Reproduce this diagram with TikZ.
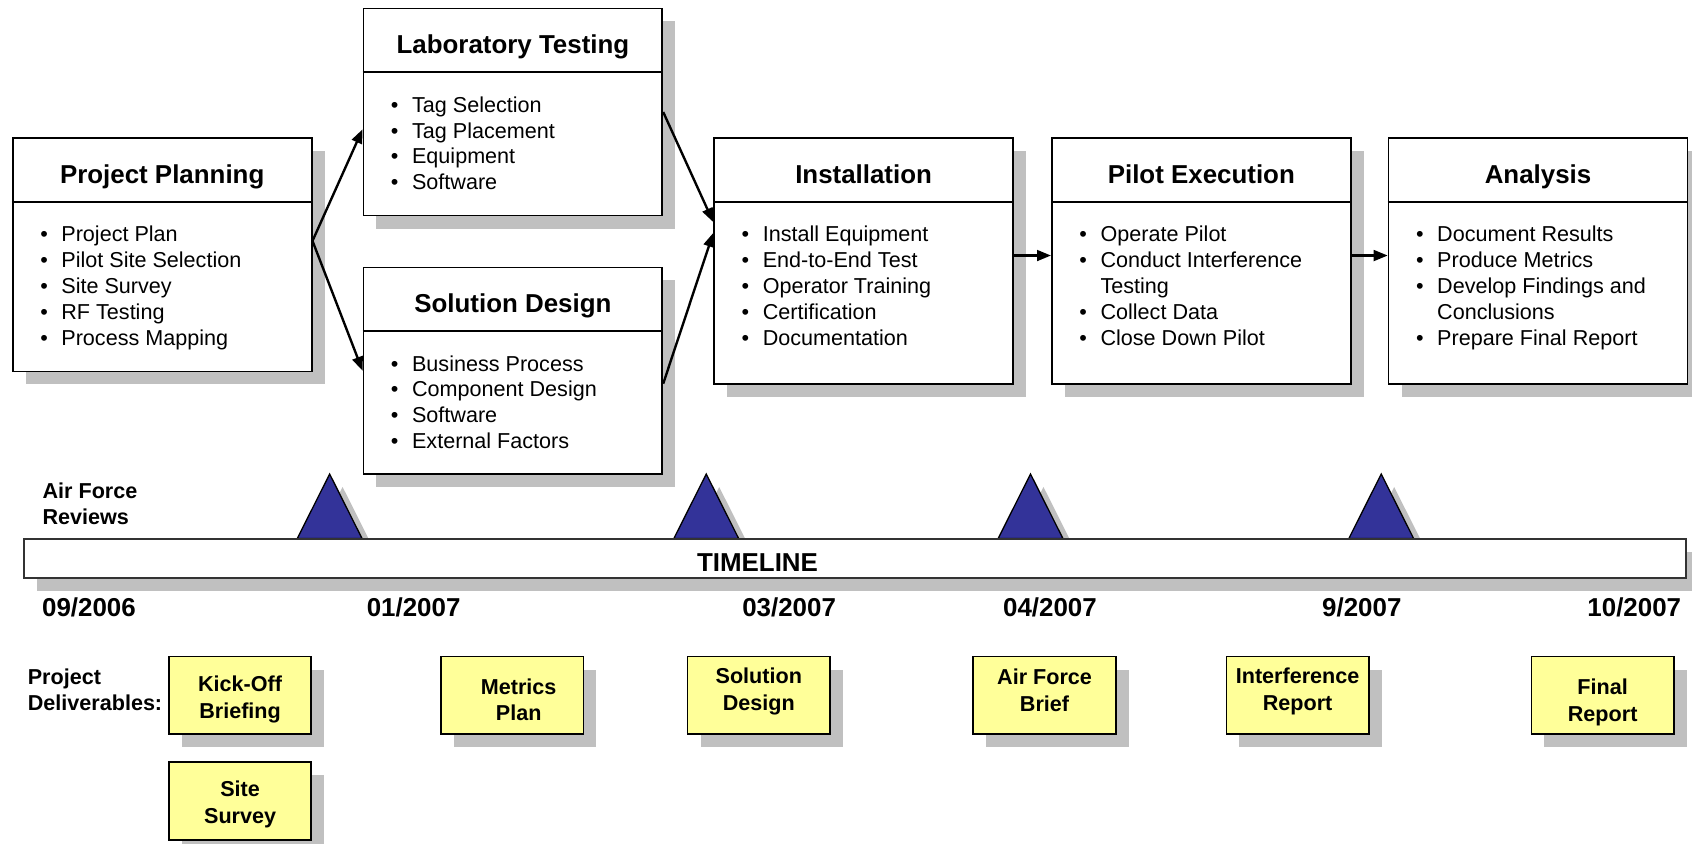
\documentclass[tikz,border=0pt]{standalone}
\usepackage{fontspec}
\setmainfont{Liberation Sans}
\usetikzlibrary{arrows.meta, positioning, shadows}
\definecolor{cshadow}{HTML}{C0C0C0}
\definecolor{cnavy}{HTML}{333399}
\definecolor{cyellow}{HTML}{FFFF99}
\newcommand{\itm}{\makebox[9.8pt][l]{\textbullet}}
\newcommand{\itmgap}{\hspace*{9.8pt}}
\tikzset{
  every picture/.style={line width=0.8pt},
  boxshadow/.style={drop shadow={shadow xshift=6pt, shadow yshift=-6pt, fill=cshadow, opacity=1}},
  stagebox/.style={draw, fill=white, boxshadow, anchor=north west, minimum width=138.5pt, inner sep=0pt},
  stagetitle/.style={font=\fontsize{12}{14.4}\selectfont\bfseries, anchor=base, inner sep=0pt},
  stagelist/.style={font=\fontsize{10}{12}\selectfont, align=left, anchor=north west, inner sep=0pt},
  arrow/.style={-{Triangle[length=6.5pt, width=5pt]}, line width=1.1pt},
  review/.style={draw, fill=cnavy, boxshadow, line width=0.6pt},
  timebar/.style={draw=black!80, fill=white, boxshadow, minimum width=770pt, minimum height=18.1pt, inner sep=0pt, line width=1pt},
  datelabel/.style={font=\fontsize{12}{14}\selectfont\bfseries, inner sep=0pt},
  sidelabel/.style={font=\fontsize{10}{12}\selectfont\bfseries, align=left, anchor=west, inner sep=0pt},
  deliv/.style={draw, fill=cyellow, boxshadow, anchor=north west, minimum width=66pt, minimum height=36pt, inner sep=0pt},
  delivtext/.style={font=\fontsize{10}{12.5}\selectfont\bfseries, align=center, inner sep=0pt},
}

\begin{document}
\begin{tikzpicture}[x=0.5pt, y=-0.5pt]
  \useasboundingbox (0,0) rectangle (1568,782);

  % project phases
  \node[stagebox, minimum height=108.25pt] (plan) at (11,127) {};
  \draw ([yshift=-30pt]plan.north west) -- ([yshift=-30pt]plan.north east);
  \node[stagetitle] (plan-t) at ([yshift=-21.5pt]plan.north) {Project Planning};
  \node[stagelist] (plan-l) at ([xshift=12.75pt, yshift=-40.8pt]plan.north west)
    {\itm Project Plan\\\itm Pilot Site Selection\\\itm Site Survey\\\itm RF Testing\\\itm Process Mapping};

  \node[stagebox, minimum height=96pt] (lab) at (336,7) {};
  \draw ([yshift=-30pt]lab.north west) -- ([yshift=-30pt]lab.north east);
  \node[stagetitle] (lab-t) at ([yshift=-21.5pt]lab.north) {Laboratory Testing};
  \node[stagelist] (lab-l) at ([xshift=12.75pt, yshift=-40.8pt]lab.north west)
    {\itm Tag Selection\\\itm Tag Placement\\\itm Equipment\\\itm Software};

  \node[stagebox, minimum height=95.75pt] (sol) at (336,247) {};
  \draw ([yshift=-30pt]sol.north west) -- ([yshift=-30pt]sol.north east);
  \node[stagetitle] (sol-t) at ([yshift=-21.5pt]sol.north) {Solution Design};
  \node[stagelist] (sol-l) at ([xshift=12.75pt, yshift=-40.8pt]sol.north west)
    {\itm Business Process\\\itm Component Design\\\itm Software\\\itm External Factors};

  \node[stagebox, minimum height=114pt] (inst) at (661,127) {};
  \draw ([yshift=-30pt]inst.north west) -- ([yshift=-30pt]inst.north east);
  \node[stagetitle] (inst-t) at ([yshift=-21.5pt]inst.north) {Installation};
  \node[stagelist] (inst-l) at ([xshift=12.75pt, yshift=-40.8pt]inst.north west)
    {\itm Install Equipment\\\itm End-to-End Test\\\itm Operator Training\\\itm Certification\\\itm Documentation};

  \node[stagebox, minimum height=114pt] (pilot) at (974,127) {};
  \draw ([yshift=-30pt]pilot.north west) -- ([yshift=-30pt]pilot.north east);
  \node[stagetitle] (pilot-t) at ([yshift=-21.5pt]pilot.north) {Pilot Execution};
  \node[stagelist] (pilot-l) at ([xshift=12.75pt, yshift=-40.8pt]pilot.north west)
    {\itm Operate Pilot\\\itm Conduct Interference\\\itmgap Testing\\\itm Collect Data\\\itm Close Down Pilot};

  \node[stagebox, minimum height=114pt] (ana) at (1286,127) {};
  \draw ([yshift=-30pt]ana.north west) -- ([yshift=-30pt]ana.north east);
  \node[stagetitle] (ana-t) at ([yshift=-21.5pt]ana.north) {Analysis};
  \node[stagelist] (ana-l) at ([xshift=12.75pt, yshift=-40.8pt]ana.north west)
    {\itm Document Results\\\itm Produce Metrics\\\itm Develop Findings and\\\itmgap Conclusions\\\itm Prepare Final Report};

  \draw[arrow] ([yshift=6.4pt]plan.east) -- ([yshift=-8pt]lab.west);
  \draw[arrow] ([yshift=6.4pt]plan.east) -- (sol.west);
  \draw[arrow] (lab.east) -- ([yshift=18pt]inst.west);
  \draw[arrow] ([yshift=-6pt]sol.east) -- ([yshift=13pt]inst.west);
  \draw[arrow] ([yshift=2.5pt]inst.east) -- ([yshift=2.5pt]pilot.west);
  \draw[arrow] ([yshift=2.5pt]pilot.east) -- ([yshift=2.5pt]ana.west);

  % reviews and timeline
  \node[sidelabel] (rev) at (38.7,467) {Air Force\\Reviews};
  \foreach \x in {305.5, 654.5, 955, 1280}
    \draw[review] ({\x-30},499) -- (\x,439.3) -- ({\x+30},499) -- cycle;
  \node[timebar] (bar) at (792.6,517.3) {};
  \node[datelabel] (tl) at ([xshift=-45.3pt, yshift=-2pt]bar.center) {TIMELINE};
  \foreach \x/\t [count=\i] in {82.4/{09/2006}, 383.3/{01/2007}, 731.3/{03/2007},
      973/{04/2007}, 1262/{9/2007}, 1514.5/{10/2007}}
    \node[datelabel] (date\i) at (\x,562.7) {\t};

  % deliverables
  \node[sidelabel] (delv) at (25,639) {Project\\Deliverables:};
  \foreach \n/\x/\dx/\dy/\t in {kick/155.7/0/-2/Kick-Off\\Briefing, metrics/407.9/3/-2/Metrics\\Plan,
      soldes/636.4/0/1.75/Solution\\Design, afbrief/901.2/0/2.25/Air Force\\Brief,
      intf/1135.7/0/1.75/Interference\\Report, final/1418.4/0/-3.25/Final\\Report} {
    \node[deliv] (\n) at (\x,607.7) {};
    \node[delivtext] (\n-t) at ([xshift=\dx pt, yshift=\dy pt]\n.center) {\t};
  }
  \node[deliv, below=12pt of kick] (site) {};
  \node[delivtext] (site-t) at ([yshift=-1.75pt]site.center) {Site\\Survey};
\end{tikzpicture}
\end{document}
